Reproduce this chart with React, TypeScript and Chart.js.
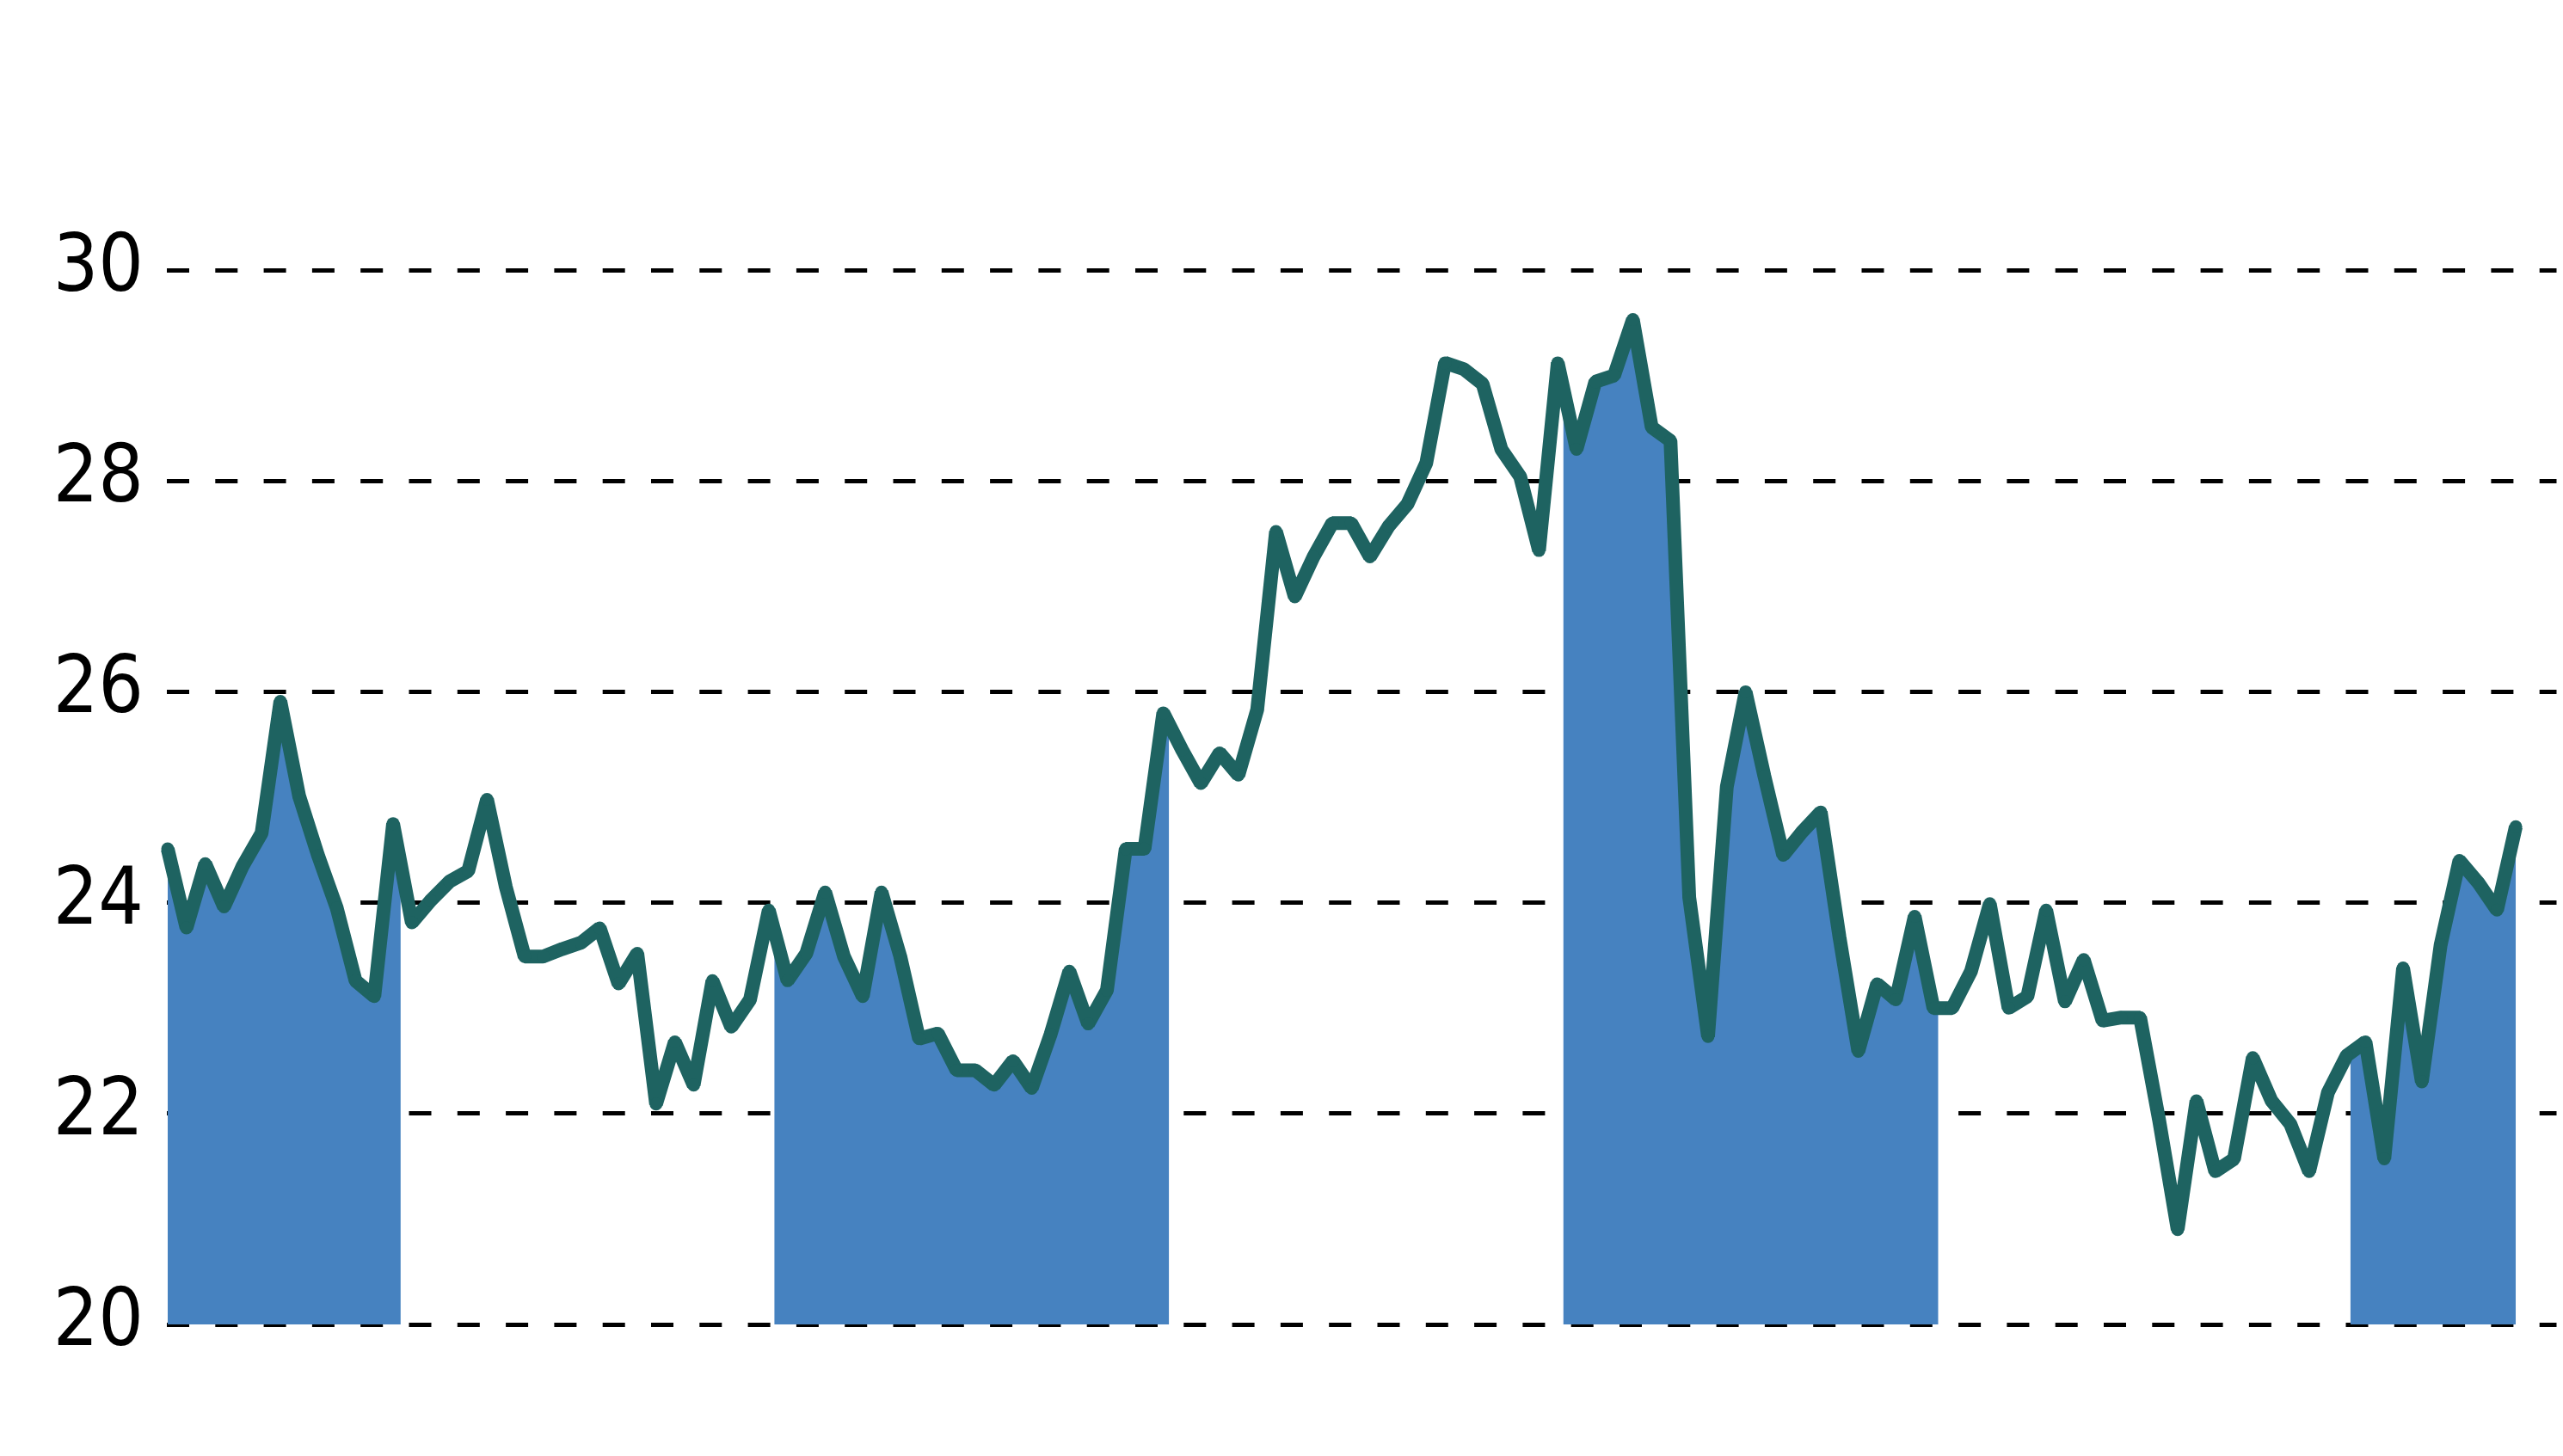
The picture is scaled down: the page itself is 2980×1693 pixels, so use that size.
import React, { useEffect, useRef } from "react";
import { Chart, registerables } from "chart.js";

// ---- data ----
const seriesValues: number[] = [
  24.51, 23.76, 24.37, 23.96, 24.35, 24.66, 25.91, 25.01, 24.45, 23.95,
  23.26, 23.11, 24.75, 23.81, 24.02, 24.2, 24.3, 24.98, 24.15, 23.49,
  23.49, 23.56, 23.62, 23.76, 23.23, 23.52, 22.09, 22.68, 22.27, 23.26,
  22.82, 23.08, 23.93, 23.26, 23.52, 24.1, 23.49, 23.11, 24.1, 23.49,
  22.71, 22.76, 22.41, 22.41, 22.27, 22.5, 22.24, 22.75, 23.35, 22.85,
  23.17, 24.51, 24.51, 25.8, 25.45, 25.13, 25.42, 25.21, 25.83, 27.52,
  26.9, 27.28, 27.6, 27.6, 27.28, 27.57, 27.78, 28.17, 29.12, 29.06,
  28.92, 28.3, 28.04, 27.34, 29.12, 28.3, 28.94, 29.0, 29.53, 28.51,
  28.38, 24.05, 22.73, 25.1, 26.0, 25.2, 24.45, 24.67, 24.86, 23.67,
  22.59, 23.23, 23.08, 23.87, 23.0, 23.0, 23.35, 23.99, 23.0, 23.11,
  23.93, 23.06, 23.46, 22.88, 22.91, 22.91, 21.95, 20.9, 22.12, 21.45,
  21.57, 22.53, 22.12, 21.9, 21.45, 22.2, 22.55, 22.68, 21.57, 23.38,
  22.3, 23.6, 24.4, 24.19, 23.93, 24.72,
];

// shaded periods, in units of the period index
const shadedStarts: number[] = [-0.46, 32.3, 74.3, 116.2];
const shadedEnds: number[] = [12.4, 53.3, 94.25, 125.25];

const yTickValues: number[] = [20, 22, 24, 26, 28, 30];

const LINE_COLOR = "#1e6361";
const FILL_COLOR = "#4682c0";

// clip the shading dataset to the shaded periods (registered before Filler so it runs first)
const shadeClipPlugin = {
  id: "shadeClip",
  beforeDatasetDraw(chart: any, args: any) {
    if (args.index !== 1) return;
    const { ctx, chartArea } = chart;
    const xs = chart.scales.x;
    ctx.save();
    ctx.beginPath();
    for (let k = 0; k < shadedStarts.length; k++) {
      const a = xs.getPixelForValue(shadedStarts[k]);
      const b = xs.getPixelForValue(shadedEnds[k]);
      ctx.rect(a, chartArea.top - 50, b - a, chartArea.bottom - chartArea.top + 50);
    }
    ctx.clip();
  },
  afterDatasetDraw(chart: any, args: any) {
    if (args.index !== 1) return;
    chart.ctx.restore();
  },
};

Chart.register(shadeClipPlugin as any);
Chart.register(...registerables);

export default function App() {
  const ref = useRef<HTMLCanvasElement | null>(null);

  useEffect(() => {
    document.body.style.margin = "0";
    const canvas = ref.current;
    if (!canvas) return;
    const points = seriesValues.map((v, i) => ({ x: i, y: v }));
    const chart = new Chart(canvas, {
      type: "line",
      data: {
        datasets: [
          {
            data: points,
            borderColor: LINE_COLOR,
            borderWidth: 16,
            borderJoinStyle: "bevel",
            tension: 0,
            pointRadius: 7.5,
            pointBackgroundColor: LINE_COLOR,
            pointBorderWidth: 0,
            fill: false,
          },
          {
            data: points,
            borderWidth: 0,
            borderColor: "rgba(0,0,0,0)",
            backgroundColor: FILL_COLOR,
            pointRadius: 0,
            tension: 0,
            fill: "start",
          },
        ],
      },
      options: {
        responsive: false,
        animation: false,
        devicePixelRatio: 1,
        layout: { padding: { top: 314, bottom: 153, left: 0, right: 0 } },
        plugins: {
          legend: { display: false },
          tooltip: { enabled: false },
        },
        scales: {
          x: {
            type: "linear",
            display: false,
            min: -0.41,
            max: 127.17,
          },
          y: {
            type: "linear",
            min: 20,
            max: 30,
            z: 1,
            afterBuildTicks: (s: any) => {
              s.ticks = yTickValues.map((v) => ({ value: v }));
            },
            afterFit: (s: any) => {
              s.width = 186;
            },
            ticks: {
              padding: 19,
              color: "#000000",
              font: {
                family: "'Liberation Sans Narrow', 'DejaVu Sans Condensed', 'Arial Narrow', sans-serif",
                size: 92,
              },
              callback: (v: any) => String(v),
            },
            grid: {
              color: "#000000",
              lineWidth: 5,
              drawTicks: false,
              borderDash: [26, 30.3],
              borderDashOffset: 48.3,
            } as any,
            border: { display: false, dash: [26, 30.3], dashOffset: 48.3 },
          },
        },
      } as any,
    });
    return () => chart.destroy();
  }, []);

  return (
    <canvas
      ref={ref}
      width={2980}
      height={1693}
      style={{ display: "block", width: "2980px", height: "1693px" }}
    />
  );
}
